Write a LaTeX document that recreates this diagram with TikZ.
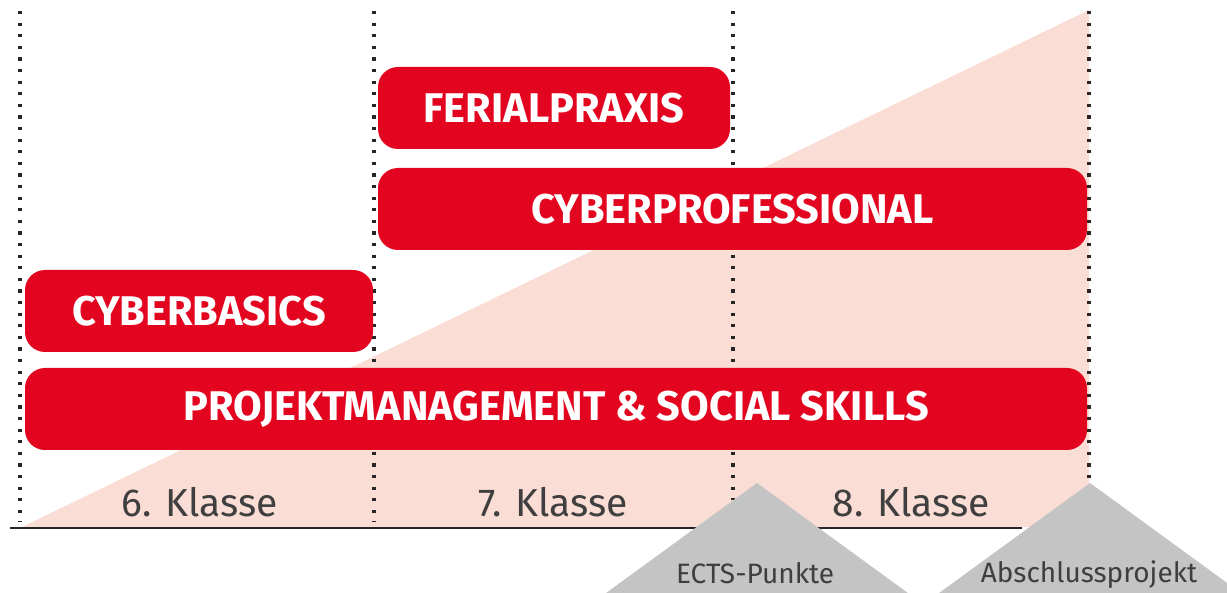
\documentclass[tikz,border=0pt]{standalone}
\usepackage{fontspec}
\newfontfamily\boxfont{Fira Sans}
\newfontfamily\lblfont{Fira Sans}
\definecolor{boxred}{HTML}{E30520}
\definecolor{pinkbg}{HTML}{FADDD4}
\definecolor{triggray}{HTML}{C4C4C4}
\definecolor{txtgray}{HTML}{3F3F3F}
\begin{document}
\begin{tikzpicture}[x=1pt,y=-1pt,
  redbox/.style={fill=boxred, rounded corners=20pt, minimum height=82pt, inner sep=0pt, text=white, font=\boxfont\bfseries\fontsize{41.5}{42}\selectfont},
  dotline/.style={line width=3.2pt, dash pattern=on 3.2pt off 8.4pt, black!85},
  klasse/.style={text=txtgray, font=\lblfont\fontsize{39}{39}\selectfont, inner sep=0pt},
  marker/.style={fill=triggray},
  mlabel/.style={text=txtgray, font=\lblfont\fontsize{28}{28}\selectfont, inner sep=0pt}]
\useasboundingbox (0,0) rectangle (1227,593);
\clip (0,0) rectangle (1227,593);
% pink wedge
\fill[pinkbg] (22,527) -- (1089,10) -- (1089,527) -- cycle;
% dotted separators
\coordinate (d1t) at (20,11);  \coordinate (d1b) at (20,522);
\coordinate (d2t) at (374,11); \coordinate (d2b) at (374,522);
\coordinate (d3t) at (733,11); \coordinate (d3b) at (733,500);
\coordinate (d4t) at (1089,11);\coordinate (d4b) at (1089,486);
\draw[dotline] (d1t) -- (d1b);
\draw[dotline] (d2t) -- (d2b);
\draw[dotline] (d3t) -- (d3b);
\draw[dotline] (d4t) -- (d4b);
% baseline
\coordinate (bl) at (10,528); \coordinate (br) at (1022,528);
\draw[line width=2pt, black!85] (bl) -- (br);
% red boxes
\node[redbox, minimum width=352pt] (ferial) at (554,108) {FERIALPRAXIS};
\node[redbox, minimum width=709pt] (cyberpro) at (732.5,209) {CYBERPROFESSIONAL};
\node[redbox, minimum width=348pt] (cyberbasic) at (199,311) {CYBERBASICS};
\node[redbox, minimum width=1062pt] (pm) at (556,409) {PROJEKTMANAGEMENT \& SOCIAL SKILLS};
% class labels
\node[klasse] (k6) at (200,502) {6. Klasse};
\node[klasse] (k7) at (553,502) {7. Klasse};
\node[klasse] (k8) at (911,502) {8. Klasse};
% gray markers
\fill[marker] (757,483) -- (912,596) -- (602,596) -- cycle;
\fill[marker] (1090,483) -- (1245,596) -- (935,596) -- cycle;
\node[mlabel] (ects) at (755,573) {ECTS-Punkte};
\node[mlabel] (absch) at (1089,575) {Abschlussprojekt};
\end{tikzpicture}
\end{document}
